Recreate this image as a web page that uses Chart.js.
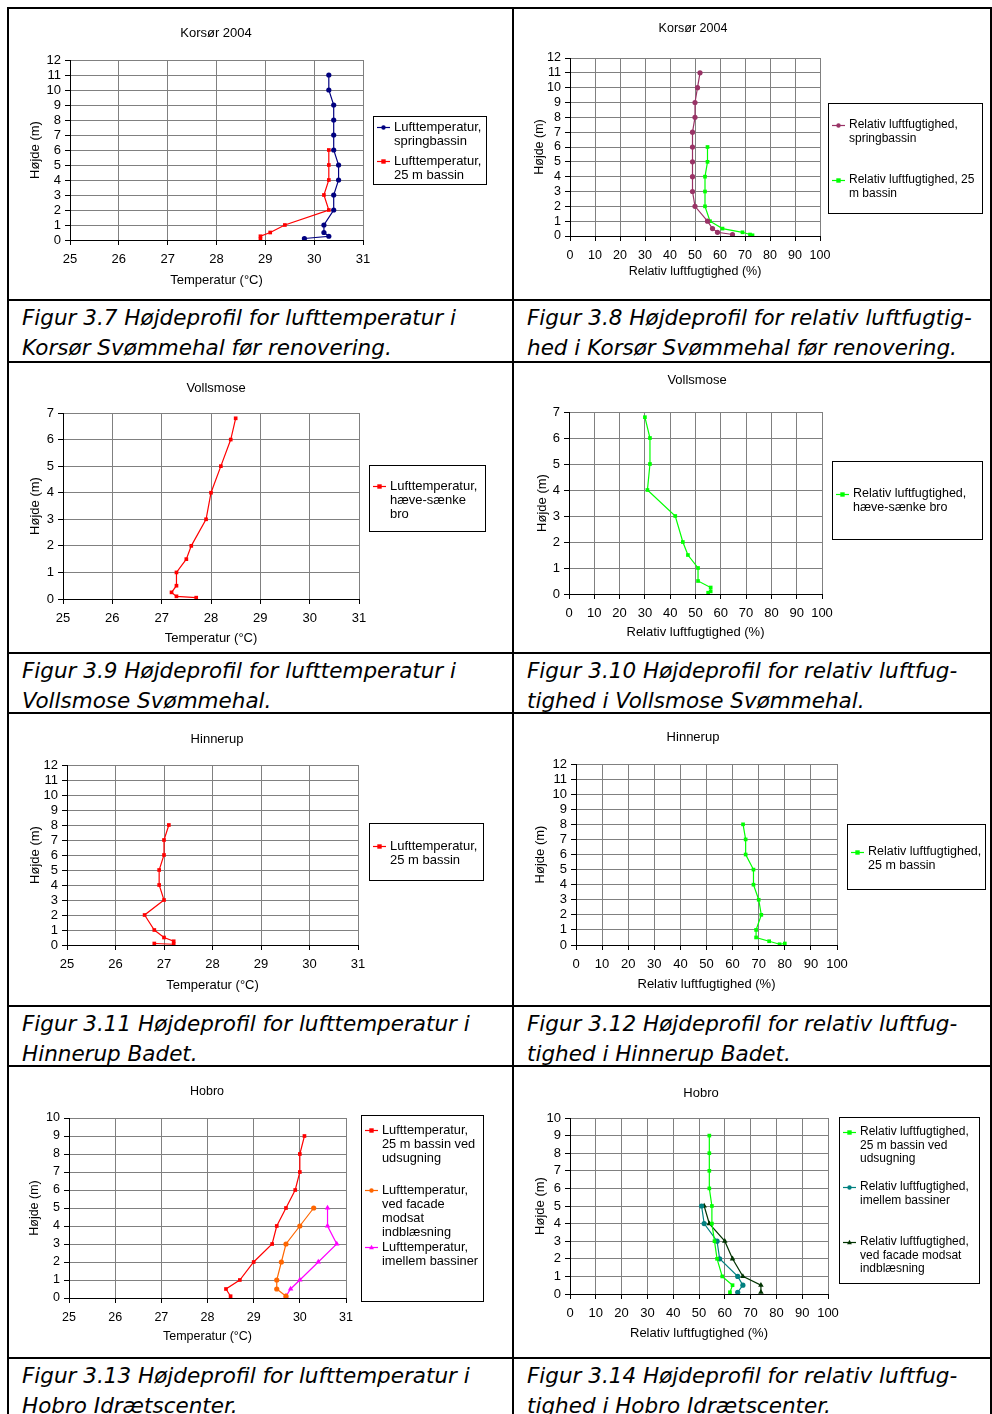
<!DOCTYPE html>
<html>
<head>
<meta charset="utf-8">
<script src="https://cdn.jsdelivr.net/npm/chart.js@4.4.1/dist/chart.umd.min.js"></script>
<style>
  body { margin: 0; background: #fff; width: 992px; height: 1414px; position: relative; overflow: hidden; }
  canvas { position: absolute; }
  .hl { position: absolute; left: 7px; width: 985px; height: 2px; background: #000; }
  .vl { position: absolute; top: 7px; width: 2px; height: 1407px; background: #000; }
  .cap { position: absolute; font-family: 'DejaVu Sans', sans-serif; font-style: italic; font-size: 21.5px; line-height: 30px; white-space: nowrap; color: #000; }
</style>
</head>
<body>
<div class="hl" style="top:7px"></div>
<div class="hl" style="top:299px"></div>
<div class="hl" style="top:361px"></div>
<div class="hl" style="top:652px"></div>
<div class="hl" style="top:712px"></div>
<div class="hl" style="top:1005px"></div>
<div class="hl" style="top:1065px"></div>
<div class="hl" style="top:1357px"></div>
<div class="vl" style="left:7px"></div>
<div class="vl" style="left:512px"></div>
<div class="vl" style="left:990px"></div>

<div class="cap" style="left:22px;top:303px">Figur 3.7 Højdeprofil for lufttemperatur i<br>Korsør Svømmehal før renovering.</div>
<div class="cap" style="left:527px;top:303px">Figur 3.8 Højdeprofil for relativ luftfugtig-<br>hed i Korsør Svømmehal før renovering.</div>
<div class="cap" style="left:22px;top:656px">Figur 3.9 Højdeprofil for lufttemperatur i<br>Vollsmose Svømmehal.</div>
<div class="cap" style="left:527px;top:656px">Figur 3.10 Højdeprofil for relativ luftfug-<br>tighed i Vollsmose Svømmehal.</div>
<div class="cap" style="left:22px;top:1009px">Figur 3.11 Højdeprofil for lufttemperatur i<br>Hinnerup Badet.</div>
<div class="cap" style="left:527px;top:1009px">Figur 3.12 Højdeprofil for relativ luftfug-<br>tighed i Hinnerup Badet.</div>
<div class="cap" style="left:22px;top:1361px">Figur 3.13 Højdeprofil for lufttemperatur i<br>Hobro Idrætscenter.</div>
<div class="cap" style="left:527px;top:1361px">Figur 3.14 Højdeprofil for relativ luftfug-<br>tighed i Hobro Idrætscenter.</div>

<script>
// Korsør 2004
const korsorHeightsSpring = [11, 10, 9, 8, 7, 6, 5, 4, 3, 2, 1, 0.5, 0.25, 0.1];
const korsorTempSpring    = [30.3, 30.3, 30.4, 30.4, 30.4, 30.4, 30.5, 30.5, 30.4, 30.4, 30.2, 30.2, 30.3, 29.8];
const korsorHeights25     = [6, 5, 4, 3, 2, 1, 0.5, 0.25, 0.05];
const korsorTemp25        = [30.3, 30.3, 30.3, 30.2, 30.3, 29.4, 29.1, 28.9, 28.9];
const korsorRhSpring      = [52, 51, 50, 50, 49, 49, 49, 49, 49, 50, 55, 57, 59, 65];
const korsorRhHeights25   = [6, 5, 4, 3, 2, 1, 0.5, 0.25, 0.1, 0.05];
const korsorRh25          = [55, 55, 54, 54, 54, 56, 61, 69, 72, 73];

// Vollsmose
const vollsmoseHeights = [6.8, 6, 5, 4, 3, 2, 1.5, 1, 0.5, 0.25, 0.1, 0.05];
const vollsmoseTemp    = [28.5, 28.4, 28.2, 28.0, 27.9, 27.6, 27.5, 27.3, 27.3, 27.2, 27.3, 27.7];
const vollsmoseRh      = [30, 32, 32, 31, 42, 45, 47, 51, 51, 56, 56, 55];

// Hinnerup
const hinnerupHeights = [8, 7, 6, 5, 4, 3, 2, 1, 0.5, 0.25, 0.05, 0.1];
const hinnerupTemp    = [27.1, 27.0, 27.0, 26.9, 26.9, 27.0, 26.6, 26.8, 27.0, 27.2, 27.2, 26.8];
const hinnerupRh      = [64, 65, 65, 68, 68, 70, 71, 69, 69, 74, 78, 80];

// Hobro
const hobroHeightsExhaust = [9, 8, 7, 6, 5, 4, 3, 2, 1, 0.5, 0.1];
const hobroHeightsShort   = [5, 4, 3, 2, 1, 0.5, 0.1];
const hobroTempExhaust    = [30.1, 30.0, 30.0, 29.9, 29.7, 29.5, 29.4, 29.0, 28.7, 28.4, 28.5];
const hobroTempFacade     = [30.3, 30.0, 29.7, 29.6, 29.5, 29.5, 29.7];
const hobroTempBetween    = [30.6, 30.6, 30.8, 30.4, 30.0, 29.8, 29.7];
const hobroRhExhaust      = [54, 54, 54, 54, 55, 55, 56, 57, 59, 63, 62];
const hobroRhBetween      = [51, 52, 57, 58, 65, 67, 65];
const hobroRhFacade       = [52, 54, 60, 63, 67, 74, 74];

const FONT = '"Liberation Sans", Arial, sans-serif';
const rows = [[9, 299], [363, 652], [714, 1005], [1067, 1357]];
const cols = [[9, 512], [514, 990]];

function pts(xs, ys) {
    return xs.map(function(v, i) { return { x: v, y: ys[i] }; });
}

function drawMarker(ctx, style, x, y, r, color) {
    ctx.fillStyle = color;
    ctx.beginPath();
    if (style === 'rect') {
        ctx.rect(x - r, y - r, 2 * r, 2 * r);
    } else if (style === 'triangle') {
        ctx.moveTo(x, y - r * 1.2);
        ctx.lineTo(x + r * 1.1, y + r * 0.8);
        ctx.lineTo(x - r * 1.1, y + r * 0.8);
        ctx.closePath();
    } else {
        ctx.arc(x, y, r, 0, Math.PI * 2);
    }
    ctx.fill();
}

// title + bordered legend box, drawn like the Excel originals
const boxPlugin = {
    id: 'boxPlugin',
    afterDraw(chart, args, o) {
        const ctx = chart.ctx;
        ctx.save();
        ctx.fillStyle = '#000';
        ctx.textBaseline = 'middle';
        ctx.textAlign = 'center';
        ctx.font = o.font + 'px ' + FONT;
        ctx.fillText(o.title, o.titleX - o.ox, o.titleY - o.oy);

        const b = o.box;
        const bx = b.x - o.ox;
        ctx.strokeStyle = '#000';
        ctx.lineWidth = 1;
        ctx.strokeRect(bx + 0.5, b.y - o.oy + 0.5, b.w, b.h);

        ctx.textAlign = 'left';
        ctx.font = o.legendFont + 'px ' + FONT;
        chart.data.datasets.forEach(function(ds, i) {
            const y0 = o.legendYs[i] - o.oy;
            ctx.strokeStyle = ds.borderColor;
            ctx.lineWidth = 1.2;
            ctx.beginPath();
            ctx.moveTo(bx + 4, y0 + 0.5);
            ctx.lineTo(bx + 17, y0 + 0.5);
            ctx.stroke();
            drawMarker(ctx, ds.pointStyle, bx + 10.5, y0 + 0.5, 2.2, ds.borderColor);
            ctx.fillStyle = '#000';
            ds.label.split('\n').forEach(function(t, j) {
                ctx.fillText(t, bx + 21, y0 + j * o.lineGap);
            });
        });
        ctx.restore();
    }
};

const tempTitle = 'Temperatur (°C)';
const rhTitle = 'Relativ luftfugtighed (%)';

const charts = [
    { col: 0, row: 0, title: 'Korsør 2004', xMin: 25, xMax: 31, xStep: 1, yMax: 12, xTitle: tempTitle,
      plot: { l: 70, t: 60, r: 363, b: 240 }, yTitleX: 35, xTitleY: 280, titleX: 216, titleY: 33,
      box: { x: 373, y: 116, w: 113, h: 68 }, legendYs: [127, 161], lineGap: 14, font: 13, legendFont: 13,
      series: [
        { label: 'Lufttemperatur,\nspringbassin', x: korsorTempSpring, y: korsorHeightsSpring, color: '#000080', style: 'circle' },
        { label: 'Lufttemperatur,\n25 m bassin', x: korsorTemp25, y: korsorHeights25, color: '#FF0000', style: 'rect' }
      ] },
    { col: 1, row: 0, title: 'Korsør 2004', xMin: 0, xMax: 100, xStep: 10, yMax: 12, xTitle: rhTitle,
      plot: { l: 570, t: 58, r: 820, b: 236 }, yTitleX: 540, xTitleY: 272, titleX: 693, titleY: 29,
      box: { x: 828, y: 103, w: 154, h: 110 }, legendYs: [125, 180], lineGap: 14, font: 12.5, legendFont: 12,
      series: [
        { label: 'Relativ luftfugtighed,\nspringbassin', x: korsorRhSpring, y: korsorHeightsSpring, color: '#993366', style: 'circle' },
        { label: 'Relativ luftfugtighed, 25\nm bassin', x: korsorRh25, y: korsorRhHeights25, color: '#00FF00', style: 'rect' }
      ] },
    { col: 0, row: 1, title: 'Vollsmose', xMin: 25, xMax: 31, xStep: 1, yMax: 7, xTitle: tempTitle,
      plot: { l: 63, t: 413, r: 359, b: 599 }, yTitleX: 35, xTitleY: 638, titleX: 216, titleY: 388,
      box: { x: 369, y: 465, w: 116, h: 66 }, legendYs: [486], lineGap: 14, font: 13, legendFont: 13,
      series: [
        { label: 'Lufttemperatur,\nhæve-sænke\nbro', x: vollsmoseTemp, y: vollsmoseHeights, color: '#FF0000', style: 'rect' }
      ] },
    { col: 1, row: 1, title: 'Vollsmose', xMin: 0, xMax: 100, xStep: 10, yMax: 7, xTitle: rhTitle,
      plot: { l: 569, t: 412, r: 822, b: 594 }, yTitleX: 542, xTitleY: 632, titleX: 697, titleY: 380,
      box: { x: 832, y: 461, w: 150, h: 78 }, legendYs: [494], lineGap: 14, font: 13, legendFont: 12.5,
      series: [
        { label: 'Relativ luftfugtighed,\nhæve-sænke bro', x: vollsmoseRh, y: vollsmoseHeights, color: '#00FF00', style: 'rect' }
      ] },
    { col: 0, row: 2, title: 'Hinnerup', xMin: 25, xMax: 31, xStep: 1, yMax: 12, xTitle: tempTitle,
      plot: { l: 67, t: 765, r: 358, b: 945 }, yTitleX: 35, xTitleY: 985, titleX: 217, titleY: 739,
      box: { x: 369, y: 823, w: 114, h: 57 }, legendYs: [846], lineGap: 14, font: 13, legendFont: 13,
      series: [
        { label: 'Lufttemperatur,\n25 m bassin', x: hinnerupTemp, y: hinnerupHeights, color: '#FF0000', style: 'rect' }
      ] },
    { col: 1, row: 2, title: 'Hinnerup', xMin: 0, xMax: 100, xStep: 10, yMax: 12, xTitle: rhTitle,
      plot: { l: 576, t: 764, r: 837, b: 945 }, yTitleX: 540, xTitleY: 984, titleX: 693, titleY: 737,
      box: { x: 847, y: 824, w: 138, h: 65 }, legendYs: [852], lineGap: 13.5, font: 13, legendFont: 12.5,
      series: [
        { label: 'Relativ luftfugtighed,\n25 m bassin', x: hinnerupRh, y: hinnerupHeights, color: '#00FF00', style: 'rect' }
      ] },
    { col: 0, row: 3, title: 'Hobro', xMin: 25, xMax: 31, xStep: 1, yMax: 10, xTitle: tempTitle,
      plot: { l: 69, t: 1118, r: 346, b: 1298 }, yTitleX: 35, xTitleY: 1337, titleX: 207, titleY: 1092,
      box: { x: 361, y: 1115, w: 122, h: 186 }, legendYs: [1130, 1190, 1247], lineGap: 14.2, font: 12.5, legendFont: 12.8,
      series: [
        { label: 'Lufttemperatur,\n25 m bassin ved\nudsugning', x: hobroTempExhaust, y: hobroHeightsExhaust, color: '#FF0000', style: 'rect' },
        { label: 'Lufttemperatur,\nved facade\nmodsat\nindblæsning', x: hobroTempFacade, y: hobroHeightsShort, color: '#FF6600', style: 'circle' },
        { label: 'Lufttemperatur,\nimellem bassiner', x: hobroTempBetween, y: hobroHeightsShort, color: '#FF00FF', style: 'triangle' }
      ] },
    { col: 1, row: 3, title: 'Hobro', xMin: 0, xMax: 100, xStep: 10, yMax: 10, xTitle: rhTitle,
      plot: { l: 570, t: 1118, r: 828, b: 1294 }, yTitleX: 540, xTitleY: 1333, titleX: 701, titleY: 1093,
      box: { x: 839, y: 1117, w: 140, h: 166 }, legendYs: [1132, 1187, 1242], lineGap: 13.5, font: 13, legendFont: 12,
      series: [
        { label: 'Relativ luftfugtighed,\n25 m bassin ved\nudsugning', x: hobroRhExhaust, y: hobroHeightsExhaust, color: '#00FF00', style: 'rect' },
        { label: 'Relativ luftfugtighed,\nimellem bassiner', x: hobroRhBetween, y: hobroHeightsShort, color: '#008080', style: 'circle' },
        { label: 'Relativ luftfugtighed,\nved facade modsat\nindblæsning', x: hobroRhFacade, y: hobroHeightsShort, color: '#003300', style: 'triangle' }
      ] }
];

document.addEventListener("DOMContentLoaded", function() {
    charts.forEach(function(c) {
        const left = cols[c.col][0], right = cols[c.col][1];
        const top = rows[c.row][0], bottom = rows[c.row][1];
        const canvas = document.createElement('canvas');
        canvas.width = right - left;
        canvas.height = bottom - top;
        canvas.style.left = left + 'px';
        canvas.style.top = top + 'px';
        document.body.appendChild(canvas);

        const half = c.font * 1.2 / 2;
        const yAxisWidth = c.plot.l - (c.yTitleX - half);
        const xAxisHeight = (c.xTitleY + half) - c.plot.b;

        new Chart(canvas.getContext('2d'), {
            type: 'scatter',
            data: {
                datasets: c.series.map(function(s) {
                    return {
                        label: s.label,
                        data: pts(s.x, s.y),
                        showLine: true,
                        borderColor: s.color,
                        backgroundColor: s.color,
                        pointBackgroundColor: s.color,
                        pointBorderColor: s.color,
                        pointStyle: s.style,
                        pointRadius: s.style === 'triangle' ? 3.2 : 2.6,
                        pointBorderWidth: 0,
                        borderWidth: 1.2
                    };
                })
            },
            options: {
                responsive: false,
                animation: false,
                events: [],
                layout: {
                    padding: {
                        left: c.yTitleX - half - left,
                        top: c.plot.t - top,
                        right: right - c.plot.r,
                        bottom: bottom - (c.xTitleY + half)
                    }
                },
                plugins: {
                    legend: { display: false },
                    tooltip: { enabled: false },
                    boxPlugin: {
                        title: c.title, titleX: c.titleX, titleY: c.titleY,
                        box: c.box, legendYs: c.legendYs, lineGap: c.lineGap,
                        font: c.font, legendFont: c.legendFont, ox: left, oy: top
                    }
                },
                scales: {
                    x: {
                        type: 'linear',
                        min: c.xMin, max: c.xMax,
                        afterFit: function(scale) { scale.height = xAxisHeight; },
                        grid: { color: '#808080', tickColor: '#000', tickLength: 5, lineWidth: 1 },
                        border: { color: '#000', width: 1 },
                        ticks: { stepSize: c.xStep, color: '#000', padding: 7, maxRotation: 0, autoSkip: false,
                                 font: { family: FONT, size: c.font } },
                        title: { display: true, text: c.xTitle, color: '#000', padding: 0,
                                 font: { family: FONT, size: c.font } }
                    },
                    y: {
                        min: 0, max: c.yMax,
                        afterFit: function(scale) { scale.width = yAxisWidth; },
                        grid: { color: '#808080', tickColor: '#000', tickLength: 5, lineWidth: 1 },
                        border: { color: '#000', width: 1 },
                        ticks: { stepSize: 1, color: '#000', padding: 4, autoSkip: false,
                                 font: { family: FONT, size: c.font } },
                        title: { display: true, text: 'Højde (m)', color: '#000', padding: 0,
                                 font: { family: FONT, size: c.font } }
                    }
                }
            },
            plugins: [boxPlugin]
        });
    });
});
</script>
</body>
</html>
